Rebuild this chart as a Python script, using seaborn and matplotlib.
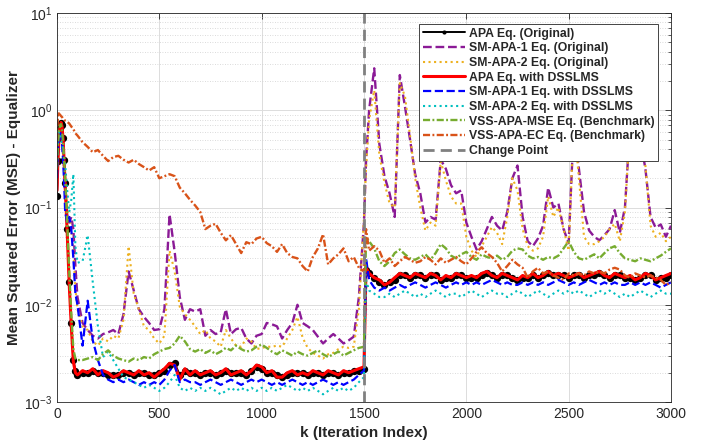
import numpy as np
import matplotlib
matplotlib.use("Agg")
import matplotlib.pyplot as plt
import seaborn as sns

# Iteration indices at which the learning curves are sampled
ITER = np.concatenate([
    [0, 5, 10, 15, 20, 25, 30, 35, 40, 50, 60, 70, 80, 90, 100],
    np.arange(125, 1500, 25),
    [1500, 1510],
    np.arange(1525, 3001, 25),
])
CHANGE_POINT = 1500

# Smoothed MSE learning curves of the equalizer
apa_orig = [
    0.13, 0.30, 0.52, 0.66, 0.74, 0.70, 0.52, 0.31, 0.18, 0.060, 0.017, 0.0065, 0.0027, 0.0021, 0.0019,
    0.0020, 0.0020, 0.0021, 0.0020, 0.0020, 0.0019, 0.0019, 0.0019, 0.0020, 0.0020, 0.0019,
    0.0020, 0.0020, 0.0019, 0.0019, 0.0020, 0.0021, 0.0024, 0.0025, 0.0019, 0.0021, 0.0020,
    0.0020, 0.0019, 0.0020, 0.0020, 0.0019, 0.0020, 0.0021, 0.0020, 0.0020, 0.0020, 0.0019,
    0.0021, 0.0023, 0.0022, 0.0020, 0.0020, 0.0019, 0.0018, 0.0019, 0.0020, 0.0020, 0.0020,
    0.0019, 0.0020, 0.0020, 0.0019, 0.0020, 0.0020, 0.0019, 0.0020, 0.0020, 0.0021, 0.0021,
    0.0022, 0.023,
    0.021, 0.019, 0.017, 0.016, 0.017, 0.018, 0.020, 0.020, 0.019, 0.020,
    0.020, 0.019, 0.020, 0.020, 0.018, 0.019, 0.019, 0.020, 0.020, 0.019,
    0.019, 0.019, 0.020, 0.021, 0.020, 0.019, 0.020, 0.020, 0.019, 0.018,
    0.019, 0.019, 0.020, 0.019, 0.020, 0.021, 0.020, 0.020, 0.020, 0.019,
    0.020, 0.020, 0.019, 0.020, 0.020, 0.021, 0.020, 0.019, 0.020, 0.020,
    0.019, 0.019, 0.018, 0.019, 0.020, 0.020, 0.018, 0.019, 0.019, 0.020,
]

sm_apa1_orig = [
    0.15, 0.35, 0.50, 0.60, 0.62, 0.50, 0.35, 0.25, 0.15, 0.085, 0.070, 0.080, 0.060, 0.025, 0.012,
    0.0065, 0.0055, 0.0048, 0.0045, 0.0050, 0.0052, 0.0055, 0.0050, 0.0080, 0.022, 0.014,
    0.0090, 0.0075, 0.0065, 0.0055, 0.0056, 0.0090, 0.085, 0.035, 0.012, 0.0070, 0.0090,
    0.0085, 0.0090, 0.0048, 0.0055, 0.0050, 0.0052, 0.0090, 0.0050, 0.0056, 0.0058, 0.0045,
    0.0040, 0.0048, 0.0050, 0.0065, 0.0063, 0.0060, 0.0045, 0.0055, 0.0065, 0.010, 0.0065,
    0.0060, 0.0055, 0.0047, 0.0040, 0.0045, 0.0050, 0.0045, 0.0040, 0.0043, 0.0047, 0.012,
    0.070, 0.30,
    1.0, 2.7, 0.45, 0.21, 0.14, 0.080, 2.3, 1.1, 0.50, 0.22,
    0.14, 0.070, 0.080, 0.075, 0.31, 0.25, 0.17, 0.14, 0.15, 0.070,
    0.050, 0.037, 0.045, 0.060, 0.080, 0.065, 0.058, 0.090, 0.20, 0.27,
    0.080, 0.045, 0.040, 0.048, 0.065, 0.16, 0.10, 0.11, 0.060, 0.043,
    0.70, 0.25, 0.090, 0.058, 0.050, 0.046, 0.052, 0.060, 0.094, 0.055,
    0.10, 0.70, 0.90, 0.50, 0.25, 0.080, 0.062, 0.067, 0.050, 0.065,
]

sm_apa2_orig = [
    0.20, 0.40, 0.55, 0.60, 0.60, 0.50, 0.40, 0.30, 0.20, 0.10, 0.080, 0.060, 0.035, 0.015, 0.009,
    0.0060, 0.0055, 0.0042, 0.0038, 0.0045, 0.0042, 0.0048, 0.0045, 0.0070, 0.040, 0.013,
    0.0090, 0.0060, 0.0055, 0.0045, 0.0040, 0.0048, 0.036, 0.022, 0.0095, 0.0080, 0.0070,
    0.0060, 0.0050, 0.0055, 0.0045, 0.0042, 0.0037, 0.0055, 0.0045, 0.0038, 0.0037, 0.0045,
    0.0042, 0.0035, 0.0036, 0.0037, 0.0037, 0.0038, 0.0037, 0.0045, 0.0055, 0.0075, 0.0046,
    0.0036, 0.0032, 0.0030, 0.0028, 0.0031, 0.0032, 0.0035, 0.0037, 0.0036, 0.0037, 0.0090,
    0.080, 0.25,
    0.80, 1.6, 0.35, 0.18, 0.11, 0.10, 1.9, 1.4, 0.55, 0.20,
    0.10, 0.058, 0.070, 0.065, 0.30, 0.19, 0.13, 0.11, 0.11, 0.050,
    0.036, 0.031, 0.040, 0.050, 0.063, 0.055, 0.042, 0.080, 0.20, 0.15,
    0.060, 0.040, 0.036, 0.038, 0.050, 0.13, 0.080, 0.10, 0.060, 0.036,
    0.80, 0.20, 0.050, 0.042, 0.042, 0.045, 0.050, 0.060, 0.068, 0.045,
    0.090, 0.75, 0.80, 0.55, 0.27, 0.065, 0.050, 0.055, 0.045, 0.050,
]

apa_dsslms = [
    0.15, 0.32, 0.50, 0.65, 0.75, 0.68, 0.50, 0.30, 0.17, 0.055, 0.016, 0.0060, 0.0026, 0.0020, 0.0019,
    0.0021, 0.0020, 0.0022, 0.0019, 0.0021, 0.0020, 0.0018, 0.0019, 0.0021, 0.0020, 0.0019,
    0.0021, 0.0019, 0.0020, 0.0018, 0.0020, 0.0022, 0.0025, 0.0024, 0.0017, 0.0022, 0.0019,
    0.0021, 0.0019, 0.0020, 0.0021, 0.0019, 0.0020, 0.0022, 0.0019, 0.0020, 0.0021, 0.0019,
    0.0021, 0.0024, 0.0023, 0.0020, 0.0021, 0.0018, 0.0018, 0.0020, 0.0021, 0.0019, 0.0020,
    0.0019, 0.0021, 0.0020, 0.0019, 0.0021, 0.0020, 0.0019, 0.0021, 0.0020, 0.0021, 0.0022,
    0.0023, 0.024,
    0.021, 0.019, 0.018, 0.016, 0.017, 0.019, 0.021, 0.020, 0.019, 0.021,
    0.020, 0.019, 0.021, 0.020, 0.018, 0.020, 0.019, 0.021, 0.020, 0.019,
    0.020, 0.019, 0.021, 0.022, 0.020, 0.019, 0.021, 0.020, 0.019, 0.018,
    0.020, 0.019, 0.021, 0.019, 0.020, 0.022, 0.020, 0.021, 0.020, 0.019,
    0.020, 0.021, 0.019, 0.020, 0.021, 0.022, 0.020, 0.019, 0.021, 0.020,
    0.019, 0.020, 0.018, 0.019, 0.021, 0.020, 0.018, 0.019, 0.020, 0.021,
]

sm_apa1_dsslms = [
    0.20, 0.40, 0.55, 0.60, 0.55, 0.45, 0.30, 0.18, 0.090, 0.070, 0.080, 0.060, 0.030, 0.013, 0.010,
    0.0038, 0.011, 0.0043, 0.0027, 0.0019, 0.0017, 0.0016, 0.0017, 0.0016, 0.0017, 0.0016,
    0.0015, 0.0016, 0.0015, 0.0016, 0.0015, 0.0017, 0.0021, 0.0024, 0.0016, 0.0017, 0.0016,
    0.0016, 0.0015, 0.0016, 0.0017, 0.0016, 0.0015, 0.0016, 0.0017, 0.0016, 0.0015, 0.0016,
    0.0017, 0.0016, 0.0017, 0.0016, 0.0015, 0.0016, 0.0015, 0.0016, 0.0017, 0.0016, 0.0015,
    0.0016, 0.0015, 0.0016, 0.0017, 0.0016, 0.0015, 0.0016, 0.0015, 0.0016, 0.0017, 0.0019,
    0.0021, 0.030,
    0.018, 0.015, 0.014, 0.015, 0.014, 0.015, 0.016, 0.015, 0.016, 0.017,
    0.016, 0.015, 0.016, 0.017, 0.016, 0.015, 0.016, 0.017, 0.016, 0.017,
    0.016, 0.017, 0.016, 0.017, 0.018, 0.017, 0.016, 0.017, 0.016, 0.016,
    0.017, 0.016, 0.017, 0.016, 0.017, 0.016, 0.017, 0.018, 0.017, 0.016,
    0.017, 0.016, 0.017, 0.018, 0.017, 0.016, 0.017, 0.016, 0.017, 0.016,
    0.016, 0.017, 0.016, 0.017, 0.016, 0.017, 0.016, 0.015, 0.016, 0.017,
]

sm_apa2_dsslms = [
    0.30, 0.50, 0.60, 0.55, 0.50, 0.45, 0.40, 0.33, 0.28, 0.15, 0.090, 0.12, 0.22, 0.040, 0.027,
    0.028, 0.052, 0.017, 0.0060, 0.0029, 0.0033, 0.0027, 0.0022, 0.0018, 0.0017, 0.0016,
    0.0015, 0.0014, 0.0015, 0.0014, 0.0013, 0.0014, 0.0016, 0.0019, 0.0014, 0.0013, 0.0014,
    0.0013, 0.0014, 0.0013, 0.0014, 0.0013, 0.0012, 0.0013, 0.0014, 0.0013, 0.0014, 0.0013,
    0.0014, 0.0013, 0.0014, 0.0013, 0.0014, 0.0013, 0.0014, 0.0015, 0.0014, 0.0013, 0.0014,
    0.0013, 0.0014, 0.0013, 0.0012, 0.0013, 0.0014, 0.0013, 0.0014, 0.0013, 0.0014, 0.0016,
    0.0018, 0.018,
    0.014, 0.013, 0.012, 0.012, 0.013, 0.012, 0.013, 0.014, 0.013, 0.012,
    0.013, 0.012, 0.013, 0.014, 0.013, 0.012, 0.013, 0.013, 0.012, 0.013,
    0.014, 0.013, 0.012, 0.013, 0.014, 0.013, 0.013, 0.012, 0.013, 0.014,
    0.013, 0.012, 0.013, 0.014, 0.013, 0.012, 0.013, 0.014, 0.013, 0.014,
    0.013, 0.014, 0.013, 0.012, 0.013, 0.014, 0.013, 0.014, 0.013, 0.012,
    0.013, 0.012, 0.013, 0.014, 0.013, 0.012, 0.013, 0.014, 0.013, 0.013,
]

vss_apa_mse = [
    0.25, 0.45, 0.60, 0.70, 0.72, 0.62, 0.45, 0.30, 0.20, 0.070, 0.022, 0.0080, 0.0035, 0.0028, 0.0027,
    0.0027, 0.0028, 0.0029, 0.0027, 0.0031, 0.0034, 0.0030, 0.0028, 0.0027, 0.0026, 0.0028,
    0.0027, 0.0029, 0.0028, 0.0031, 0.0033, 0.0035, 0.0036, 0.0040, 0.0048, 0.0042, 0.0035,
    0.0033, 0.0035, 0.0032, 0.0034, 0.0031, 0.0033, 0.0036, 0.0034, 0.0038, 0.0035, 0.0033,
    0.0034, 0.0037, 0.0039, 0.0036, 0.0033, 0.0031, 0.0034, 0.0032, 0.0030, 0.0033, 0.0031,
    0.0030, 0.0032, 0.0034, 0.0031, 0.0029, 0.0031, 0.0033, 0.0030, 0.0032, 0.0034, 0.0036,
    0.0037, 0.050,
    0.045, 0.038, 0.028, 0.025, 0.028, 0.034, 0.037, 0.033, 0.030, 0.029,
    0.031, 0.033, 0.029, 0.034, 0.042, 0.038, 0.032, 0.030, 0.033, 0.035,
    0.031, 0.029, 0.033, 0.031, 0.030, 0.032, 0.029, 0.031, 0.036, 0.038,
    0.037, 0.032, 0.030, 0.031, 0.029, 0.031, 0.030, 0.032, 0.038, 0.045,
    0.035, 0.030, 0.029, 0.031, 0.033, 0.030, 0.034, 0.038, 0.040, 0.034,
    0.030, 0.029, 0.028, 0.030, 0.029, 0.028, 0.030, 0.032, 0.035, 0.038,
]

vss_apa_ec = [
    0.50, 0.95, 0.92, 0.90, 0.87, 0.85, 0.82, 0.80, 0.78, 0.76, 0.73, 0.68, 0.64, 0.58, 0.55,
    0.47, 0.42, 0.37, 0.39, 0.34, 0.30, 0.33, 0.34, 0.31, 0.29, 0.31,
    0.28, 0.26, 0.24, 0.26, 0.20, 0.21, 0.22, 0.21, 0.16, 0.14, 0.12,
    0.105, 0.090, 0.060, 0.065, 0.068, 0.055, 0.046, 0.052, 0.042, 0.034, 0.044,
    0.042, 0.048, 0.050, 0.043, 0.040, 0.035, 0.042, 0.034, 0.031, 0.030, 0.025,
    0.022, 0.031, 0.038, 0.053, 0.026, 0.030, 0.033, 0.038, 0.028, 0.031, 0.024,
    0.022, 0.060,
    0.036, 0.040, 0.036, 0.027, 0.030, 0.025, 0.028, 0.031, 0.029, 0.027,
    0.028, 0.031, 0.029, 0.026, 0.030, 0.027, 0.029, 0.031, 0.028, 0.026,
    0.030, 0.035, 0.039, 0.034, 0.031, 0.027, 0.022, 0.025, 0.029, 0.026,
    0.024, 0.019, 0.022, 0.024, 0.021, 0.022, 0.020, 0.019, 0.018, 0.021,
    0.020, 0.021, 0.020, 0.022, 0.021, 0.022, 0.021, 0.023, 0.024, 0.023,
    0.020, 0.019, 0.021, 0.020, 0.019, 0.020, 0.019, 0.018, 0.016, 0.017,
]

DASHDOT = (0, (3.0, 1.0, 0.8, 1.0))

# (label, values, color, linestyle, linewidth, marker)
SERIES = [
    ("APA Eq. (Original)", apa_orig, "black", "-", 1.4, "."),
    ("SM-APA-1 Eq. (Original)", sm_apa1_orig, "#8B1A96", "--", 1.7, None),
    ("SM-APA-2 Eq. (Original)", sm_apa2_orig, "#EDB120", ":", 1.5, None),
    ("APA Eq. with DSSLMS", apa_dsslms, "#FF0000", "-", 2.2, None),
    ("SM-APA-1 Eq. with DSSLMS", sm_apa1_dsslms, "#0000FF", "--", 1.6, None),
    ("SM-APA-2 Eq. with DSSLMS", sm_apa2_dsslms, "#00BFBF", ":", 1.5, None),
    ("VSS-APA-MSE Eq. (Benchmark)", vss_apa_mse, "#77AC30", DASHDOT, 1.7, None),
    ("VSS-APA-EC Eq. (Benchmark)", vss_apa_ec, "#D95319", DASHDOT, 1.7, None),
]

sns.set_theme(style="white")
plt.rcParams["font.family"] = ["Liberation Sans", "DejaVu Sans"]
plt.rcParams["mathtext.default"] = "regular"

fig = plt.figure(figsize=(7.13, 4.45), dpi=100)
ax = fig.add_axes([0.0799, 0.0966, 0.8612, 0.8742])

for label, values, color, ls, lw, marker in SERIES:
    kws = dict(color=color, linestyle=ls, linewidth=lw, label=label)
    if marker:
        kws.update(marker=marker, markersize=10.5, markeredgewidth=0)
    sns.lineplot(x=ITER, y=np.asarray(values), ax=ax, estimator=None, sort=False, **kws)

ax.axvline(CHANGE_POINT, color="#808080", linestyle=(0, (4, 2.2)), linewidth=2.0,
           label="Change Point")

ax.set_yscale("log")
ax.set_xlim(0, 3000)
ax.set_ylim(1e-3, 1e1)
ax.set_xticks(np.arange(0, 3001, 500))

ax.grid(True, which="major", color="#dcdcdc", linestyle="-", linewidth=0.7)
ax.yaxis.grid(True, which="minor", color="#cfcfcf", linestyle=(0, (1, 2)), linewidth=0.6)
ax.set_axisbelow(True)

for sp in ax.spines.values():
    sp.set_color("#262626")
    sp.set_linewidth(0.6)
ax.tick_params(which="both", direction="in", top=True, right=True,
               color="#262626", labelcolor="#262626", labelsize=10)
ax.tick_params(which="major", length=4, width=0.6)
ax.tick_params(which="minor", length=2, width=0.5)
ax.tick_params(axis="x", which="minor", bottom=False, top=False)

ax.set_xlabel("k (Iteration Index)", fontsize=11, fontweight="bold", color="#262626", labelpad=4)
ax.set_ylabel("Mean Squared Error (MSE) - Equalizer", fontsize=11, fontweight="bold",
              color="#262626", labelpad=2)

leg = ax.legend(loc="upper right", bbox_to_anchor=(0.979, 0.972), borderaxespad=0,
                numpoints=1, fancybox=False, framealpha=1, edgecolor="#262626",
                prop={"weight": "bold", "size": 8.8}, handlelength=3.4,
                handletextpad=0.35, labelspacing=0.22, borderpad=0.3)
leg.get_frame().set_linewidth(0.6)
for h in leg.legend_handles:
    if h.get_marker() == ".":
        h.set_markersize(6)

fig.savefig("out.png", dpi=100)
